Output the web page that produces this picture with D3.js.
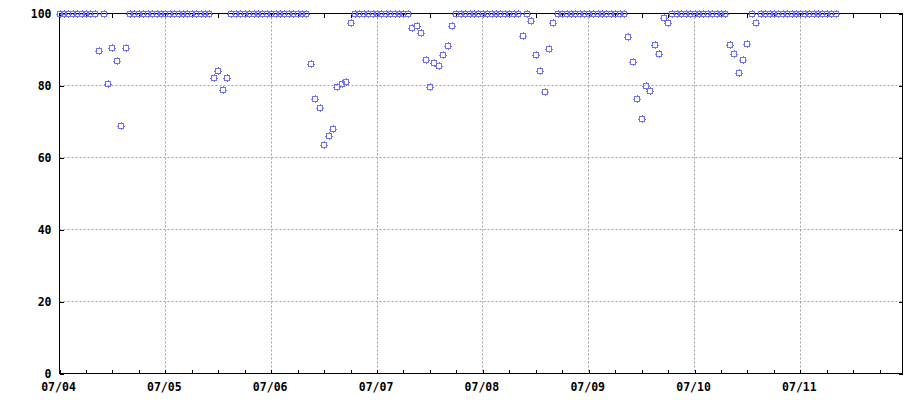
<!DOCTYPE html>
<html>
<head>
<meta charset="utf-8">
<script src="https://cdn.jsdelivr.net/npm/d3@7"></script>
<style>
  html, body { margin: 0; padding: 0; background: #fff; }
  svg { display: block; }
  .lbl { font-family: "DejaVu Sans Mono", monospace; font-weight: bold; font-size: 11.5px; fill: #000; }
</style>
</head>
<body>
<svg id="chart" width="920" height="400"></svg>
<script>
// ---- data (hourly samples, one array per day) ----
const dayLabels = ["07/04", "07/05", "07/06", "07/07", "07/08", "07/09", "07/10", "07/11"];
const yTicks = [0, 20, 40, 60, 80, 100];

const v0704 = [100,100,100,100,100,100,100,100,100, 89.6, 100, 80.5, 90.5, 86.9, 68.8, 90.5, 100,100,100,100,100,100,100,100];
const v0705 = [100,100,100,100,100,100,100,100,100,100,100, 82.1, 84.1, 78.8, 82.1, 100,100,100,100,100,100,100,100,100];
const v0706 = [100,100,100,100,100,100,100,100,100, 86.0, 76.3, 73.8, 63.5, 66.0, 68.0, 79.6, 80.5, 81.0, 97.4, 100,100,100,100,100];
const v0707 = [100,100,100,100,100,100,100,100, 96.0, 96.6, 94.6, 87.1, 79.6, 86.3, 85.5, 88.5, 91.0, 96.6, 100,100,100,100,100,100];
const v0708 = [100,100,100,100,100,100,100,100,100, 93.8, 100, 98.0, 88.5, 84.1, 78.3, 90.2, 97.4, 100,100,100,100,100,100,100];
const v0709 = [100,100,100,100,100,100,100,100,100, 93.5, 86.6, 76.3, 70.7, 79.9, 78.5, 91.3, 88.8, 98.8, 97.4, 100,100,100,100,100];
const v0710 = [100,100,100,100,100,100,100,100, 91.3, 88.8, 83.5, 87.1, 91.6, 100, 97.4, 100,100,100,100,100,100,100,100,100];
const v0711 = [100,100,100,100,100,100,100,100,100];
const dailySeries = [v0704, v0705, v0706, v0707, v0708, v0709, v0710, v0711];

// ---- layout ----
const W = 920, H = 400;
const L = 59.5, R = 902.5, T = 13.5, B = 373.5;
const YEAR = 2008;
const t0 = new Date(Date.UTC(YEAR, 6, 4, 0));
const t1 = new Date(Date.UTC(YEAR, 6, 11, 23));

const points = [];
dailySeries.forEach((arr, d) => {
  arr.forEach((v, h) => points.push({ t: new Date(Date.UTC(YEAR, 6, 4 + d, h)), v }));
});
const dayDates = dayLabels.map((s, i) => new Date(Date.UTC(YEAR, 6, 4 + i)));

const x = d3.scaleUtc().domain([t0, t1]).range([L, 901.8]);
const y = d3.scaleLinear().domain([0, 100]).range([B, T]);

const svg = d3.select("#chart");
svg.append("rect").attr("width", W).attr("height", H).attr("fill", "#fff");

const px = v => Math.round(v - 0.5) + 0.5;

// grid
const grid = svg.append("g").attr("stroke", "#a0a0a0").attr("stroke-dasharray", "2,2").attr("stroke-width", 1);
grid.selectAll("line.gx").data(dayDates.slice(1)).join("line")
  .attr("x1", d => px(x(d))).attr("x2", d => px(x(d)))
  .attr("y1", T).attr("y2", B);
grid.selectAll("line.gy").data(yTicks.filter(v => v > 0 && v < 100)).join("line")
  .attr("y1", d => px(y(d))).attr("y2", d => px(y(d)))
  .attr("x1", L).attr("x2", R);

// axes via d3
const minorTicks = d3.utcHour.every(6).range(t0, new Date(+t1 + 1));
const fmt = d3.utcFormat("%m/%d");

const gBottom = svg.append("g").attr("transform", `translate(0,${B})`)
  .call(d3.axisBottom(x).tickValues(minorTicks).tickSize(-4).tickFormat(""));
const gTop = svg.append("g").attr("transform", `translate(0,${T})`)
  .call(d3.axisTop(x).tickValues(minorTicks).tickSize(-4).tickFormat(""));
const gLeft = svg.append("g").attr("transform", `translate(${L},0)`)
  .call(d3.axisLeft(y).tickValues(yTicks).tickSize(-4).tickFormat(""));
const gRight = svg.append("g").attr("transform", `translate(${R},0)`)
  .call(d3.axisRight(y).tickValues(yTicks).tickSize(-4).tickFormat(""));
[gBottom, gTop, gLeft, gRight].forEach(g => {
  g.select(".domain").remove();
  g.selectAll(".tick line").attr("stroke", "#000").attr("shape-rendering", "crispEdges");
  g.selectAll("text").remove();
});

// frame
svg.append("rect").attr("x", L).attr("y", T).attr("width", R - L).attr("height", B - T)
  .attr("fill", "none").attr("stroke", "#000").attr("stroke-width", 1);

// labels
svg.append("g").selectAll("text").data(dayDates).join("text")
  .attr("class", "lbl").attr("text-anchor", "middle")
  .attr("x", d => x(d) - 1).attr("y", 391)
  .text(d => fmt(d));
svg.append("g").selectAll("text").data(yTicks).join("text")
  .attr("class", "lbl").attr("text-anchor", "end")
  .attr("x", 51.5).attr("y", d => y(d) + 4)
  .text(d => d);

// markers: square with tick marks
const s = 2.5, tk = 4;
const markerPath = `M${-s},${-s}H${s}V${s}H${-s}Z M0,${-s}V${-tk} M0,${s}V${tk} M${-s},0H${-tk} M${s},0H${tk}`;
svg.append("g").selectAll("path").data(points).join("path")
  .attr("transform", d => `translate(${Math.round(x(d.t))},${Math.round(y(d.v))})`)
  .attr("d", markerPath)
  .attr("fill", "none").attr("stroke", "#7070ff").attr("stroke-width", 1)
  .attr("shape-rendering", "crispEdges");
</script>
</body>
</html>
